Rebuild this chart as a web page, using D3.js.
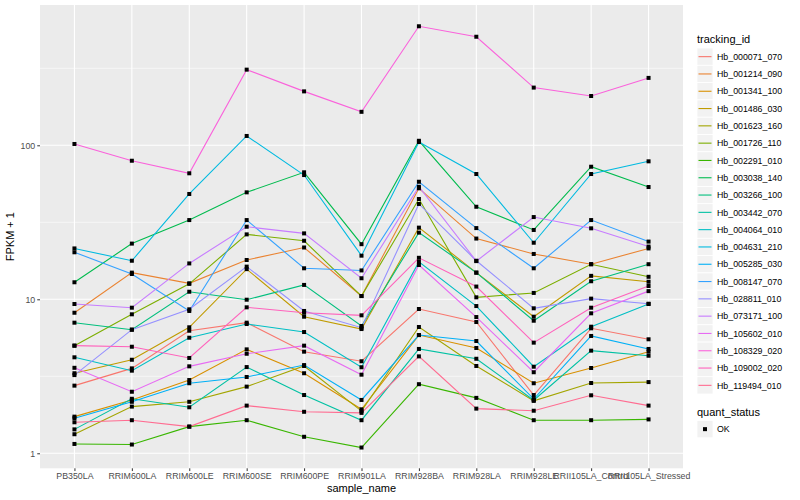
<!DOCTYPE html>
<html>
<head>
<meta charset="utf-8">
<script src="https://cdn.jsdelivr.net/npm/d3@7"></script>
<style>
  body { margin: 0; background: #fff; }
  text { font-family: "Liberation Sans", Arial, sans-serif; }
</style>
</head>
<body>
<div id="chart"></div>
<script>

// samples on the x axis
const samples = ['PB350LA', 'RRIM600LA', 'RRIM600LE', 'RRIM600SE', 'RRIM600PE', 'RRIM901LA',
  'RRIM928BA', 'RRIM928LA', 'RRIM928LE', 'RRII105LA_Control', 'RRII105LA_Stressed'];

const trackingIds = ['Hb_000071_070', 'Hb_001214_090', 'Hb_001341_100', 'Hb_001486_030',
  'Hb_001623_160', 'Hb_001726_110', 'Hb_002291_010', 'Hb_003038_140', 'Hb_003266_100',
  'Hb_003442_070', 'Hb_004064_010', 'Hb_004631_210', 'Hb_005285_030', 'Hb_008147_070',
  'Hb_028811_010', 'Hb_073171_100', 'Hb_105602_010', 'Hb_108329_020', 'Hb_109002_020',
  'Hb_119494_010'];

// FPKM + 1, one row per tracking_id, one value per sample
const fpkmPlus1 = [
  [2.75, 3.56, 6.25, 7.05, 4.57, 3.96, 8.65, 7.12, 2.39, 6.48, 5.50],
  [8.18, 14.9, 12.7, 18.0, 21.7, 10.5, 52.6, 24.8, 19.7, 16.9, 21.4],
  [1.73, 2.22, 2.99, 4.73, 3.31, 1.93, 5.86, 4.83, 2.85, 3.58, 4.57],
  [3.31, 4.05, 6.58, 15.7, 7.71, 6.41, 29.2, 14.9, 7.71, 14.2, 13.0],
  [1.33, 2.01, 2.16, 2.71, 3.69, 1.88, 6.61, 3.69, 2.19, 2.86, 2.90],
  [5.00, 7.99, 12.6, 26.4, 24.0, 10.5, 44.8, 10.3, 11.0, 16.9, 14.0],
  [1.15, 1.14, 1.49, 1.64, 1.28, 1.09, 2.81, 2.29, 1.64, 1.64, 1.66],
  [12.9, 23.0, 32.7, 49.5, 66.8, 22.8, 107, 39.9, 28.2, 72.6, 53.6],
  [7.05, 6.35, 11.2, 9.94, 12.4, 6.71, 27.1, 14.9, 7.26, 13.1, 16.9],
  [1.43, 2.26, 1.99, 3.63, 2.39, 1.64, 4.76, 4.11, 2.21, 4.64, 4.30],
  [4.20, 3.44, 5.63, 6.91, 6.13, 3.62, 17.5, 9.04, 3.65, 6.64, 9.32],
  [21.4, 17.8, 48.3, 115, 64.1, 19.2, 105, 65.1, 23.3, 65.1, 78.7],
  [1.69, 2.16, 2.85, 3.13, 3.74, 2.22, 5.86, 5.36, 2.25, 5.78, 4.76],
  [20.2, 14.6, 8.40, 32.7, 15.9, 15.4, 58.0, 29.0, 15.9, 32.7, 23.7],
  [3.22, 6.35, 8.61, 16.3, 8.40, 6.54, 41.6, 17.8, 8.74, 10.1, 9.36],
  [9.32, 8.82, 17.1, 29.6, 26.8, 13.7, 53.8, 17.7, 34.2, 28.9, 22.0],
  [3.59, 2.51, 3.67, 4.43, 5.00, 3.24, 16.7, 7.67, 3.36, 8.11, 11.3],
  [102, 79.4, 65.8, 310, 224, 165, 593, 507, 237, 209, 274],
  [5.00, 4.92, 4.16, 8.87, 8.18, 7.87, 18.6, 12.1, 5.23, 8.82, 12.2],
  [1.59, 1.64, 1.49, 2.04, 1.86, 1.83, 4.26, 1.95, 1.89, 2.38, 2.04]
];

// default ggplot hue palette for 20 levels
const colors = ['#F8766D', '#EA8331', '#D89000', '#C09B00', '#A3A500', '#7CAE00', '#39B600',
  '#00BB4E', '#00BF7D', '#00C1A3', '#00BFC4', '#00BAE0', '#00B0F6', '#35A2FF', '#9590FF',
  '#C77CFF', '#E76BF3', '#FA62DB', '#FF62BC', '#FF6C91'];

const yTicks = [1, 10, 100];
const yMinor = [Math.sqrt(10), Math.sqrt(1000), Math.sqrt(100000)];
const quantLevels = ['OK'];

const W = 800, H = 500;
const panel = {left: 40, right: 683, top: 5, bottom: 468.3};

const svg = d3.select('#chart').append('svg')
  .attr('width', W)
  .attr('height', H);

const x = d3.scalePoint()
  .domain(samples)
  .range([panel.left, panel.right])
  .padding(0.6);

const y = d3.scaleLog()
  .domain([0.799, 815])
  .range([panel.bottom, panel.top]);

// panel background + grid
svg.append('rect')
  .attr('x', panel.left).attr('y', panel.top)
  .attr('width', panel.right - panel.left)
  .attr('height', panel.bottom - panel.top)
  .attr('fill', '#EBEBEB');

svg.selectAll('.minor')
  .data(yMinor)
  .enter().append('line')
  .attr('x1', panel.left).attr('x2', panel.right)
  .attr('y1', d => y(d)).attr('y2', d => y(d))
  .attr('stroke', '#fff').attr('stroke-width', 0.55);

svg.selectAll('.hmajor')
  .data(yTicks)
  .enter().append('line')
  .attr('x1', panel.left).attr('x2', panel.right)
  .attr('y1', d => y(d)).attr('y2', d => y(d))
  .attr('stroke', '#fff').attr('stroke-width', 1.1);

svg.selectAll('.vmajor')
  .data(samples)
  .enter().append('line')
  .attr('x1', d => x(d)).attr('x2', d => x(d))
  .attr('y1', panel.top).attr('y2', panel.bottom)
  .attr('stroke', '#fff').attr('stroke-width', 1.1);

// series
const series = trackingIds.map((id, i) => ({
  id: id,
  color: colors[i],
  values: fpkmPlus1[i].map((v, j) => ({sample: samples[j], value: v}))
}));

const line = d3.line()
  .x(d => x(d.sample))
  .y(d => y(d.value));

svg.append('g').selectAll('path')
  .data(series)
  .enter().append('path')
  .attr('d', d => line(d.values))
  .attr('fill', 'none')
  .attr('stroke', d => d.color)
  .attr('stroke-width', 1.1);

svg.append('g').selectAll('rect')
  .data(series.flatMap(s => s.values))
  .enter().append('rect')
  .attr('x', d => x(d.sample) - 2)
  .attr('y', d => y(d.value) - 2)
  .attr('width', 4).attr('height', 4)
  .attr('fill', '#000');

// axes
const yAxis = d3.axisLeft(y).tickValues(yTicks).tickFormat(d3.format('d')).tickSize(2.75).tickPadding(2);
const gy = svg.append('g')
  .attr('transform', `translate(${panel.left},0)`)
  .call(yAxis);

const xAxis = d3.axisBottom(x).tickSize(2.75).tickPadding(2);
const gx = svg.append('g')
  .attr('transform', `translate(0,${panel.bottom})`)
  .call(xAxis);

[gx, gy].forEach(g => {
  g.select('.domain').remove();
  g.selectAll('.tick line').attr('stroke', '#333').attr('stroke-width', 1);
  g.selectAll('.tick text')
    .attr('fill', '#4D4D4D')
    .style('font-size', '8.8px')
    .style('font-family', '"Liberation Sans", Arial, sans-serif');
});

svg.append('text')
  .attr('x', (panel.left + panel.right) / 2)
  .attr('y', 492)
  .attr('text-anchor', 'middle')
  .style('font-size', '11px')
  .text('sample_name');

svg.append('text')
  .attr('transform', `translate(14,${(panel.top + panel.bottom) / 2}) rotate(-90)`)
  .attr('text-anchor', 'middle')
  .style('font-size', '11px')
  .text('FPKM + 1');

// legend: tracking_id
const lg = svg.append('g').attr('transform', 'translate(697,0)');
lg.append('text')
  .attr('x', 0).attr('y', 43)
  .style('font-size', '11px')
  .text('tracking_id');

const keyH = 17.3, keyTop = 48;
const keys = lg.selectAll('.key')
  .data(series)
  .enter().append('g')
  .attr('transform', (d, i) => `translate(0,${keyTop + i * keyH})`);
keys.append('rect')
  .attr('width', 16).attr('height', keyH)
  .attr('fill', '#F2F2F2')
  .attr('stroke', '#fff').attr('stroke-width', 0.8);
keys.append('line')
  .attr('x1', 1.5).attr('x2', 14.5)
  .attr('y1', keyH / 2).attr('y2', keyH / 2)
  .attr('stroke', d => d.color)
  .attr('stroke-width', 1.1);
keys.append('text')
  .attr('x', 20).attr('y', keyH / 2 + 3.2)
  .style('font-size', '8.8px')
  .text(d => d.id);

// legend: quant_status
const qg = svg.append('g').attr('transform', 'translate(697,0)');
qg.append('text')
  .attr('x', 0).attr('y', 416)
  .style('font-size', '11px')
  .text('quant_status');
const qk = qg.selectAll('.qkey')
  .data(quantLevels)
  .enter().append('g')
  .attr('transform', (d, i) => `translate(0,${420.5 + i * keyH})`);
qk.append('rect')
  .attr('width', 16).attr('height', keyH)
  .attr('fill', '#F2F2F2')
  .attr('stroke', '#fff').attr('stroke-width', 0.8);
qk.append('rect')
  .attr('x', 6).attr('y', keyH / 2 - 2)
  .attr('width', 4).attr('height', 4)
  .attr('fill', '#000');
qk.append('text')
  .attr('x', 20).attr('y', keyH / 2 + 3.2)
  .style('font-size', '8.8px')
  .text(d => d);

</script>
</body>
</html>
